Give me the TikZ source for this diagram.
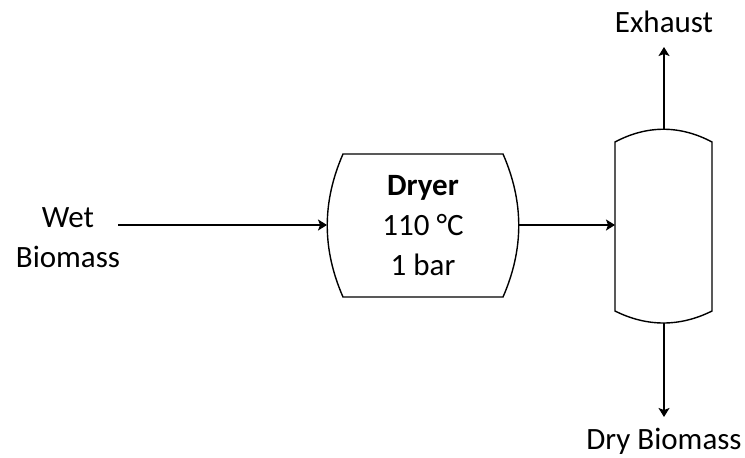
\documentclass[tikz,border=0pt]{standalone}
\usepackage{fontspec}
\setmainfont{Carlito}
\usetikzlibrary{arrows.meta}

\begin{document}
\begin{tikzpicture}[x=1pt,y=-1pt,line width=1.4pt,font=\fontsize{31}{40}\selectfont,
  flow/.style={-{Stealth[length=9pt,width=11pt,inset=2pt]}}]
\path[use as bounding box] (0,0) rectangle (745,458);
% dryer
\coordinate (dryerW) at (327,225); \coordinate (dryerE) at (519,225);
\draw (343,154) -- (503,154) .. controls (524,202) and (524,249) .. (503,297)
  -- (343,297) .. controls (322,249) and (322,202) .. cycle;
\node[align=center] (dryer) at (423,226) {\textbf{Dryer}\\110 °C\\1 bar};
% separator
\coordinate (sepN) at (664,129); \coordinate (sepS) at (664,323); \coordinate (sepW) at (615,225);
\draw (615,142) .. controls (647,125) and (680,125) .. (712,142) -- (712,311)
  .. controls (680,327) and (647,327) .. (615,311) -- cycle;
% streams
\node[align=center] (wet) at (68,238) {Wet\\Biomass};
\coordinate (feed) at (118,225);
\node[anchor=base] (exhaust) at (664,32) {Exhaust};
\coordinate (exhaustend) at (664,47);
\node[anchor=base] (drybio) at (664,449) {Dry Biomass};
\coordinate (drybioend) at (664,417);
\draw[flow] (feed) -- (dryerW);
\draw[flow] (dryerE) -- (sepW);
\draw[flow] (sepN) -- (exhaustend);
\draw[flow] (sepS) -- (drybioend);
\end{tikzpicture}
\end{document}
